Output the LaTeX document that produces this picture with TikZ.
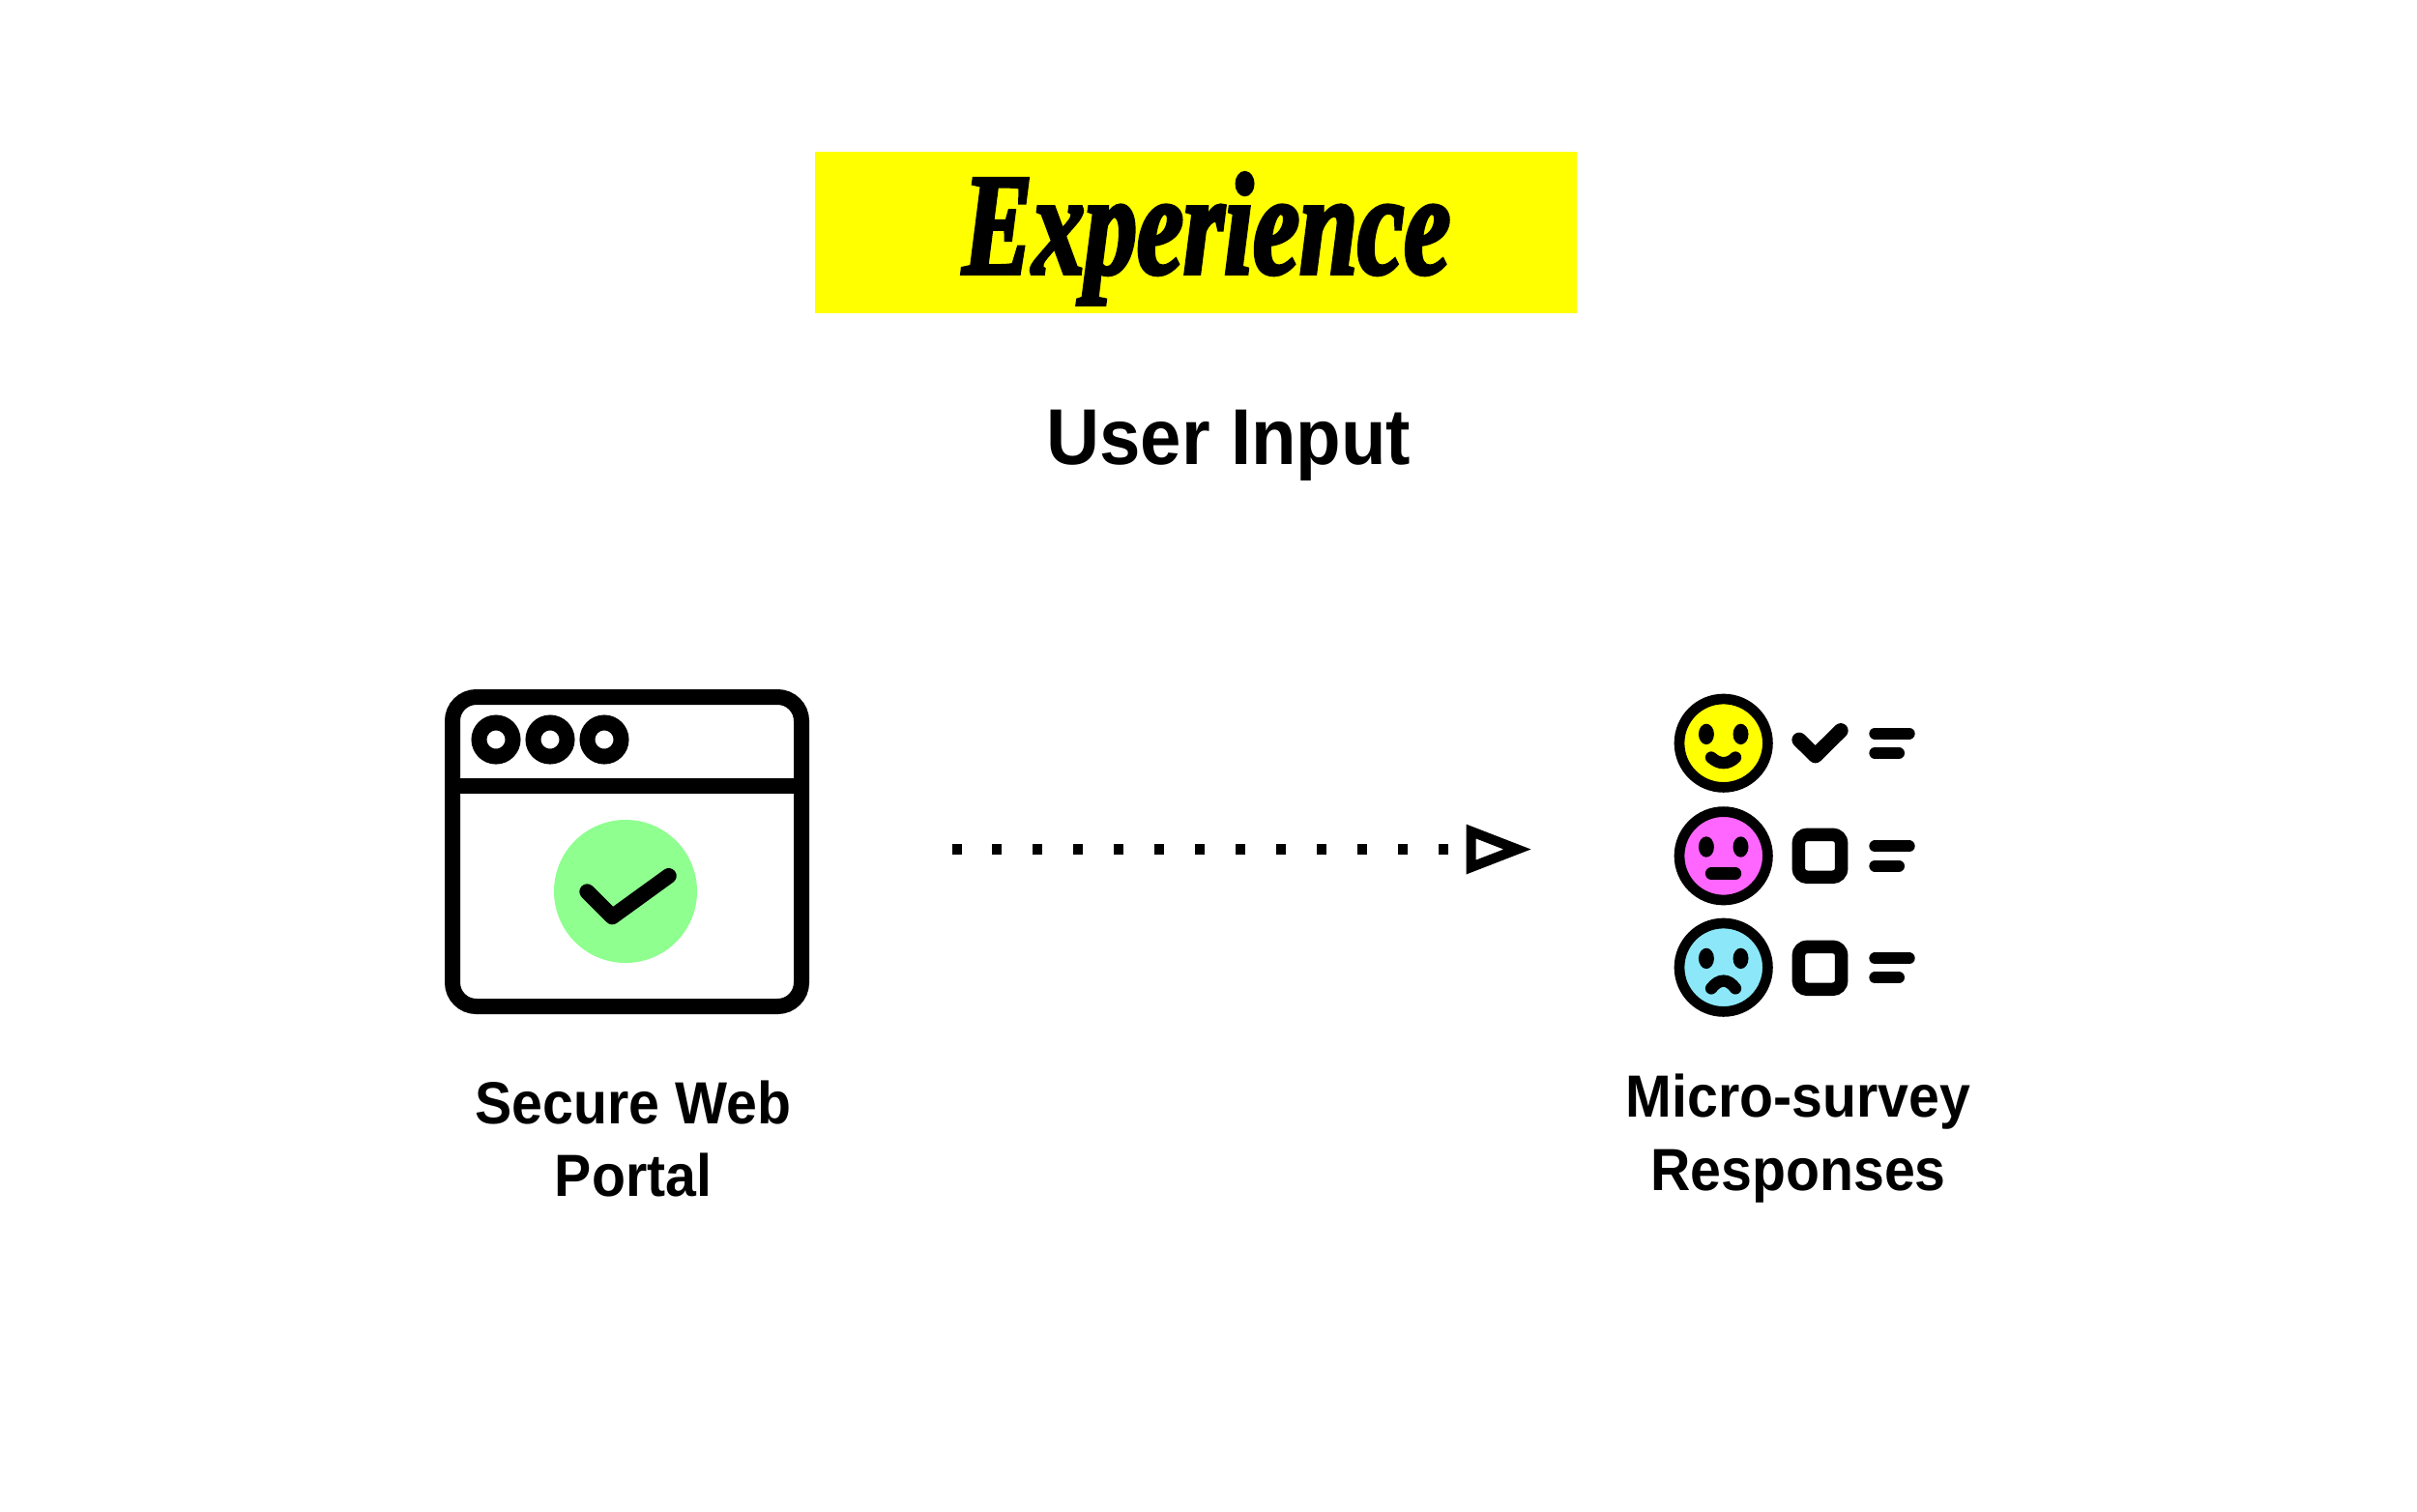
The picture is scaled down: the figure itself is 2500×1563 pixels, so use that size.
\documentclass[tikz,border=0pt]{standalone}
\usepackage{fontspec}
\setmainfont{Liberation Sans}
\newfontfamily\expfont[FakeBold=2.5,FakeStretch=0.72]{Liberation Serif}
\newfontfamily\labelfont[FakeStretch=0.93]{Liberation Sans}
\usepackage{xcolor}
\definecolor{banner}{RGB}{255,255,0}
\definecolor{okgreen}{RGB}{143,255,143}
\definecolor{happy}{RGB}{255,255,0}
\definecolor{neutral}{RGB}{255,102,255}
\definecolor{sad}{RGB}{140,232,248}
\usepackage{tikz}
\usetikzlibrary{arrows.meta}
\tikzset{
  titletext/.style={font=\labelfont\bfseries\fontsize{23.3}{28}\selectfont},
  captiontext/.style={font=\labelfont\bfseries\fontsize{17.5}{21.6}\selectfont, align=center},
  bannertext/.style={font=\expfont\bfseries\itshape\fontsize{42.7}{50}\selectfont},
  winline/.style={line width=4.55pt},
  faceline/.style={line width=3.05pt},
  mouthline/.style={line width=3.5pt, line cap=round},
  tickline/.style={line width=4.35pt, line cap=round, line join=round},
  boxline/.style={line width=3.85pt, rounded corners=2.6pt},
  barline/.style={line width=3.4pt, line cap=round}
}
\begin{document}
\begin{tikzpicture}[x=0.01cm,y=-0.01cm]
    \useasboundingbox (0,0) rectangle (2500,1563);
    \fill[banner] (843,157) rectangle (1631,324);
    \node[bannertext, anchor=base, inner sep=0pt] (experience) at (1248,283) {Experience};
    \node[titletext, anchor=base, inner sep=0pt] (userinput) at (1271,480) {User Input};

    \draw[winline, rounded corners=7pt] (468,721) rectangle (829,1041);
    \draw[winline] (468,812.5) to (829,812.5);
    \draw[winline] (513,765) circle (17.5);
    \draw[winline] (569,765) circle (17.5);
    \draw[winline] (625,765) circle (17.5);
    \fill[okgreen] (647,922) circle (74);
    \draw[winline, line cap=round, line join=round] (607.3,922.3) to (633.3,948.3) to (691.7,906);
    \node[captiontext, anchor=center, inner sep=0pt] (portal) at (655,1178) {Secure Web\\Portal};

    \coordinate (dotstart) at (984.5,878.5);
    \coordinate (dotend) at (1584.4,878.5);
    \draw[line width=3pt, dash pattern=on 2.85pt off 9.07pt,
          -{Triangle[open,length=19.3pt,width=13.9pt,line width=2.9pt,sep=0pt]}] (dotstart) to (dotend);

    \draw[faceline, fill=happy] (1782.7,768.7) circle (45.7);
    \fill (1764.9,759.4) ellipse (8 and 10.7);
    \fill (1800.5,759.4) ellipse (8 and 10.7);
    \draw[mouthline] (1770,783.5) .. controls (1778,791) and (1787.5,791) .. (1795,783.5);
    \draw[tickline] (1861,765.3) to (1877.7,781.7) to (1904,755.7);
    \draw[barline] (1939.3,758.7) to (1974.7,758.7);
    \draw[barline] (1939.3,779) to (1964,779);

    \draw[faceline, fill=neutral] (1782.7,885.3) circle (45.7);
    \fill (1764.9,876) ellipse (8 and 10.7);
    \fill (1800.5,876) ellipse (8 and 10.7);
    \draw[mouthline] (1770,903.6) to (1795,903.6);
    \draw[boxline] (1860.3,863.3) rectangle (1904.7,907.3);
    \draw[barline] (1939.3,875.3) to (1974.7,875.3);
    \draw[barline] (1939.3,895.7) to (1964,895.7);

    \draw[faceline, fill=sad] (1782.7,1000.7) circle (45.7);
    \fill (1764.9,991.4) ellipse (8 and 10.7);
    \fill (1800.5,991.4) ellipse (8 and 10.7);
    \draw[mouthline] (1770,1022.4) .. controls (1778,1012) and (1787.5,1012) .. (1795,1022.4);
    \draw[boxline] (1860.3,979.3) rectangle (1904.7,1023.3);
    \draw[barline] (1939.3,991.3) to (1974.7,991.3);
    \draw[barline] (1939.3,1011.3) to (1964,1011.3);
    \node[captiontext, anchor=center, inner sep=0pt] (responses) at (1860,1178) {Micro-survey\\Responses};
\end{tikzpicture}
\end{document}
